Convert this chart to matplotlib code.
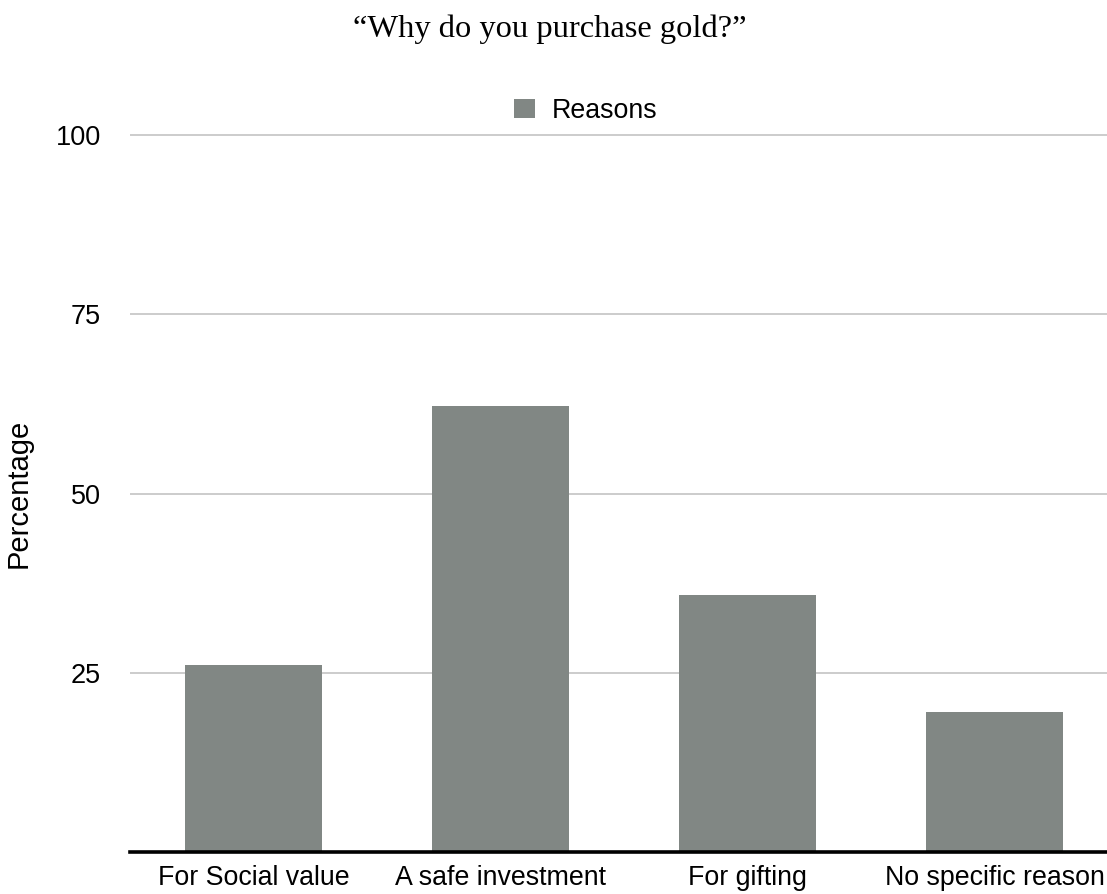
import numpy as np
import matplotlib
matplotlib.use("Agg")
import matplotlib.pyplot as plt

# data
categories = ["For Social value", "A safe investment", "For gifting", "No specific reason"]
reasons = [26.1, 62.2, 35.9, 19.5]
y_ticks = [25, 50, 75, 100]

bar_color = "#818784"
sans = ["Liberation Sans", "DejaVu Sans"]
serif = ["Liberation Serif", "DejaVu Serif"]

W, H = 1107, 894
fig = plt.figure(figsize=(W / 100, H / 100), dpi=100)

# axes placed in pixel terms: baseline at y=852, 100 at y=135
y0_px = 852.3
px_per_unit = (852.3 - 135.0) / 100
ytop = 110
ax_top_px = y0_px - ytop * px_per_unit
ax_w_px = W - 130
ax = fig.add_axes([130 / W, (H - y0_px) / H, ax_w_px / W, (y0_px - ax_top_px) / H])

x = np.arange(len(categories))
ax.bar(x, reasons, width=0.555, color=bar_color, label="Reasons", zorder=2)

ax.set_xlim(-0.5, 3.455)
ax.set_ylim(0, ytop)
ax.set_yticks(y_ticks)
ax.set_yticklabels([str(t) for t in y_ticks], fontfamily=sans, fontsize=19.5)
ax.set_xticks(x)
ax.set_xticklabels(categories, fontfamily=sans, fontsize=19.3)
ax.tick_params(axis="y", length=0, pad=21)
ax.tick_params(axis="x", length=0, pad=9)
ax.grid(axis="y", color="#c4c4c4", linewidth=1.2, zorder=0)

for s in ["top", "right", "left"]:
    ax.spines[s].set_visible(False)
ax.spines["bottom"].set_linewidth(2.6)
ax.spines["bottom"].set_color("black")
ax.spines["bottom"].set_zorder(3)

ax.set_ylabel("Percentage", fontfamily=sans, fontsize=21)
ax.yaxis.set_label_coords((33 - 130) / ax_w_px, 50 / ytop)

leg = ax.legend(loc="center left", bbox_to_anchor=(514 / W, 1 - 111 / H),
                bbox_transform=fig.transFigure, frameon=False,
                borderpad=0, borderaxespad=0, handlelength=0.78,
                handleheight=0.7, handletextpad=0.63,
                prop={"family": sans, "size": 19.3})

fig.text(550 / W, 1 - 29 / H, "\u201cWhy do you purchase gold?\u201d",
         ha="center", va="center", fontfamily=serif, fontsize=23.4)

fig.savefig("out.png", dpi=100)
